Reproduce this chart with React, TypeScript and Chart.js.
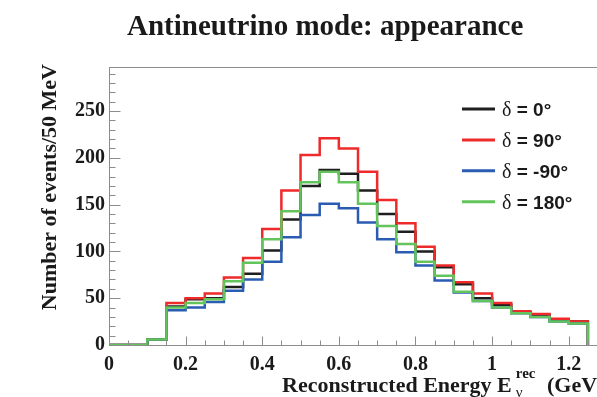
import { useEffect, useRef } from "react";
import { Chart, registerables } from "chart.js";

Chart.register(...registerables);

// Reconstructed-energy bin edges (GeV), 50 MeV wide bins
const binEdges = [
  0, 0.05, 0.1, 0.15, 0.2, 0.25, 0.3, 0.35, 0.4, 0.45, 0.5, 0.55, 0.6,
  0.65, 0.7, 0.75, 0.8, 0.85, 0.9, 0.95, 1.0, 1.05, 1.1, 1.15, 1.2, 1.25,
];

// Expected events per bin for each CP phase
const delta0 = [0, 0, 6, 41, 49, 50, 62, 76, 101, 134, 170, 187, 183, 165, 140, 121, 100, 83, 65, 50, 43, 35, 32, 27, 25];
const delta90 = [0, 0, 6, 45, 50, 55, 72, 93, 124, 165, 203, 221, 210, 185, 155, 130, 105, 85, 67, 55, 45, 36, 33, 28, 25];
const deltaMinus90 = [0, 0, 6, 37, 40, 46, 58, 70, 89, 115, 139, 151, 146, 131, 113, 99, 85, 69, 56, 47, 40, 34, 30, 25, 23];
const delta180 = [0, 0, 6, 40, 45, 49, 68, 88, 113, 143, 174, 185, 174, 151, 127, 108, 89, 74, 57, 47, 40, 34, 30, 25, 23];

const seriesLabels = ["δ = 0°", "δ = 90°", "δ = -90°", "δ = 180°"];
const seriesColors = ["#1e1e1e", "#ee2a2a", "#2a5cb2", "#64c45c"];

const xTickValues = [0, 0.2, 0.4, 0.6, 0.8, 1, 1.2];
const yTickValues = [0, 50, 100, 150, 200, 250];
const xMinorStep = 0.05;
const yMinorStep = 10;
const xRange = [0, 1.3];
const yRange = [0, 297];

const mainTitle = "Antineutrino mode: appearance";
const yTitle = "Number of events/50 MeV";
const xTitleMain = "Reconstructed Energy E";
const xTitleSub = "ν";
const xTitleSup = "rec";
const xTitleUnit = " (GeV)";

const SERIF = "'Liberation Serif', 'DejaVu Serif', serif";
const SANS = "'Liberation Sans', Arial, sans-serif";
const AXIS_GRAY = "#8c8c8c";
const TEXT = "#1a1a1a";

// Histogram outline: each bin's value sits on its low edge and holds until the
// next edge; the outline closes at zero on the last edge
function toHistogram(values: number[]) {
  return binEdges.map((x, i) => ({ x, y: i < values.length ? values[i] : 0 }));
}

const rootStyle = {
  id: "rootStyle",
  afterDraw(chart: any) {
    const { ctx, chartArea: a, scales } = chart;
    const xs = scales.x;
    const ys = scales.y;
    ctx.save();

    // frame
    ctx.strokeStyle = AXIS_GRAY;
    ctx.lineWidth = 1;
    const top = Math.round(a.top) + 0.5;
    const right = Math.round(a.right) + 0.5;
    const left = Math.round(a.left) + 0.5;
    const bottom = Math.round(a.bottom) + 0.5;
    ctx.beginPath();
    ctx.moveTo(left, top);
    ctx.lineTo(right, top);
    ctx.lineTo(right, bottom);
    ctx.stroke();

    // inward tick marks
    ctx.beginPath();
    const nx = Math.round((xs.max - xs.min) / xMinorStep);
    for (let i = 0; i <= nx; i++) {
      const v = xs.min + i * xMinorStep;
      const px = Math.round(xs.getPixelForValue(v)) + 0.5;
      const len = i % 4 === 0 ? 9 : 5;
      ctx.moveTo(px, bottom);
      ctx.lineTo(px, bottom - len);
    }
    const ny = Math.floor((ys.max - ys.min) / yMinorStep);
    for (let i = 0; i <= ny; i++) {
      const v = ys.min + i * yMinorStep;
      const py = Math.round(ys.getPixelForValue(v)) + 0.5;
      const len = i % 5 === 0 ? 11 : 6;
      ctx.moveTo(left, py);
      ctx.lineTo(left + len, py);
    }
    ctx.stroke();

    ctx.fillStyle = TEXT;
    ctx.textAlign = "left";
    ctx.textBaseline = "alphabetic";

    // main title
    ctx.font = `bold 29px ${SERIF}`;
    ctx.fillText(mainTitle, 127, 35);

    // y-axis title, right-aligned to the top of the axis
    ctx.save();
    ctx.font = `bold 22px ${SERIF}`;
    ctx.translate(56, 64);
    ctx.rotate(-Math.PI / 2);
    ctx.textAlign = "right";
    ctx.fillText(yTitle, 0, 0);
    ctx.restore();

    // x-axis title with sub/superscript
    ctx.font = `bold 22px ${SERIF}`;
    const x0 = 282;
    const base = 392;
    ctx.fillText(xTitleMain, x0, base);
    let cx = x0 + ctx.measureText(xTitleMain).width + 4;
    ctx.font = `bold 15px ${SERIF}`;
    const wSup = ctx.measureText(xTitleSup).width;
    ctx.fillText(xTitleSup, cx, base - 14);
    ctx.font = `15px ${SERIF}`;
    const wSub = ctx.measureText(xTitleSub).width;
    ctx.fillText(xTitleSub, cx, base + 5);
    cx += Math.max(wSup, wSub) + 6;
    ctx.font = `bold 22px ${SERIF}`;
    ctx.fillText(xTitleUnit, cx, base);

    // legend
    const lx0 = 462;
    const lx1 = 495;
    const ly0 = 109;
    const dy = 30.9;
    chart.data.datasets.forEach((ds: any, i: number) => {
      const y = ly0 + i * dy;
      ctx.strokeStyle = ds.borderColor;
      ctx.lineWidth = 3;
      ctx.beginPath();
      ctx.moveTo(lx0, y);
      ctx.lineTo(lx1, y);
      ctx.stroke();
      const label: string = ds.label;
      const sym = label.charAt(0);
      const rest = label.slice(1);
      ctx.fillStyle = TEXT;
      ctx.font = `20px ${SERIF}`;
      ctx.fillText(sym, 502, y + 7);
      const ws = ctx.measureText(sym).width;
      ctx.font = `bold 19px ${SANS}`;
      ctx.fillText(rest, 502 + ws, y + 7);
    });

    ctx.restore();
  },
};

export default function App() {
  const canvasRef = useRef<HTMLCanvasElement | null>(null);

  useEffect(() => {
    const canvas = canvasRef.current;
    if (!canvas) return;
    const series = [delta0, delta90, deltaMinus90, delta180];
    const tickFont = { family: SERIF, size: 20, weight: "bold" as const };

    const chart = new Chart(canvas, {
      type: "line",
      data: {
        datasets: series.map((values, i) => ({
          label: seriesLabels[i],
          data: toHistogram(values),
          borderColor: seriesColors[i],
          backgroundColor: seriesColors[i],
          borderWidth: 2.5,
          stepped: "before" as const,
          pointRadius: 0,
          fill: false,
          order: series.length - i,
        })),
      },
      options: {
        responsive: false,
        animation: false,
        events: [],
        layout: { padding: { left: 0, right: 33, top: 67, bottom: 0 } },
        plugins: {
          legend: { display: false },
          title: { display: false },
          tooltip: { enabled: false },
        },
        scales: {
          x: {
            type: "linear",
            min: xRange[0],
            max: xRange[1],
            afterFit: (s: any) => {
              s.height = 52;
            },
            afterBuildTicks: (s: any) => {
              s.ticks = xTickValues.map((value) => ({ value }));
            },
            ticks: {
              autoSkip: false,
              maxRotation: 0,
              padding: 8,
              color: TEXT,
              font: tickFont,
              callback: (v: any) => String(Number(Number(v).toFixed(2))),
            },
            grid: { display: false, drawTicks: false },
            border: { display: true, color: AXIS_GRAY, width: 1 },
          },
          y: {
            type: "linear",
            min: yRange[0],
            max: yRange[1],
            afterFit: (s: any) => {
              s.width = 109;
            },
            afterBuildTicks: (s: any) => {
              s.ticks = yTickValues.map((value) => ({ value }));
            },
            ticks: {
              autoSkip: false,
              padding: 4,
              color: TEXT,
              font: tickFont,
              callback: (v: any) => String(v),
            },
            grid: { display: false, drawTicks: false },
            border: { display: true, color: AXIS_GRAY, width: 1 },
          },
        },
      },
      plugins: [rootStyle],
    });

    return () => chart.destroy();
  }, []);

  return (
    <div
      style={{
        position: "fixed",
        left: 0,
        top: 0,
        width: 597,
        height: 397,
        overflow: "hidden",
        background: "#ffffff",
      }}
    >
      <canvas ref={canvasRef} width={640} height={397} style={{ display: "block" }} />
    </div>
  );
}
